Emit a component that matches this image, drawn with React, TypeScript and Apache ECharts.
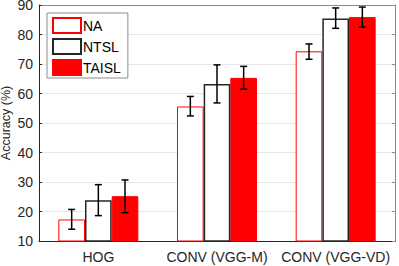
import React, { useEffect, useRef } from "react";
import * as echarts from "echarts";

const categories = ["HOG", "CONV (VGG-M)", "CONV (VGG-VD)"];
const seriesNames = ["NA", "NTSL", "TAISL"];
const naValues = [17.3, 55.6, 74.3];
const ntslValues = [23.8, 63.2, 85.4];
const taislValues = [25.2, 65.3, 85.9];
const naErr = [[14.0, 20.7], [52.4, 59.0], [71.6, 76.8]];
const ntslErr = [[18.6, 29.1], [56.8, 69.7], [82.1, 89.0]];
const taislErr = [[19.6, 30.7], [61.5, 69.2], [82.5, 89.3]];
const yTicks = [10, 20, 30, 40, 50, 60, 70, 80, 90];

const CAT_GAP = 0.326;

export default function App() {
  const ref = useRef<HTMLDivElement>(null);
  useEffect(() => {
    const chart = echarts.init(ref.current!, null, { renderer: "svg" });
    const errs = [naErr, ntslErr, taislErr];
    const errData: number[][] = [];
    errs.forEach((arr, s) => arr.forEach((e, i) => errData.push([i, e[0], e[1], s])));
    const font = "Liberation Sans, Arial, Helvetica, sans-serif";
    const txt = "#262626";
    chart.setOption({
      animation: false,
      grid: { left: 39, right: 4, top: 5, bottom: 25, containLabel: false, outerBoundsMode: "none" },
      legend: {
        left: 47,
        top: 13,
        orient: "vertical",
        icon: "rect",
        itemWidth: 28,
        itemHeight: 15,
        itemGap: 4,
        padding: [4, 7, 2, 5],
        borderColor: "#8c8c8c",
        borderWidth: 1,
        borderRadius: 0,
        backgroundColor: "#fff",
        textStyle: { fontSize: 14, lineHeight: 15, color: "#000", fontFamily: font, padding: [0, 0, 0, -3] },
        data: seriesNames,
      },
      xAxis: [
        {
          type: "category",
          data: categories,
          axisLine: { lineStyle: { color: txt, width: 1 } },
          axisTick: { inside: true, alignWithLabel: true, length: 3, lineStyle: { color: txt } },
          axisLabel: { fontSize: 14, color: txt, fontFamily: font, margin: 9, interval: 0 },
          splitLine: { show: false },
        },
        {
          type: "category",
          data: categories,
          position: "top",
          axisLine: { lineStyle: { color: "#8a8a8a", width: 1 } },
          axisTick: { inside: true, alignWithLabel: true, length: 3, lineStyle: { color: "#8a8a8a" } },
          axisLabel: { show: false },
        },
      ],
      yAxis: [
        {
          type: "value",
          min: 10,
          max: 90,
          interval: 10,
          name: "Accuracy (%)",
          nameLocation: "middle",
          nameGap: 27,
          nameMoveOverlap: false,
          nameTextStyle: { fontSize: 12.5, color: txt, fontFamily: font, lineHeight: 12 },
          axisLine: { show: true, lineStyle: { color: txt } },
          axisTick: { show: true, inside: true, length: 3, lineStyle: { color: txt } },
          axisLabel: { fontSize: 14, color: txt, fontFamily: font, margin: 6, lineHeight: 10 },
          splitLine: { show: true, lineStyle: { color: "#e6e6e6", width: 1 } },
        },
        {
          type: "value",
          min: 10,
          max: 90,
          interval: 10,
          position: "right",
          axisLine: { show: true, lineStyle: { color: "#8a8a8a" } },
          axisTick: { show: true, inside: true, length: 3, lineStyle: { color: "#8a8a8a" } },
          axisLabel: { show: false },
          splitLine: { show: false },
        },
      ],
      series: [
        {
          name: "NA",
          type: "bar",
          data: naValues,
          barGap: "0%",
          barCategoryGap: CAT_GAP * 100 + "%",
          itemStyle: { color: "#ffffff", borderColor: "#ff0000", borderWidth: 1 },
          z: 2,
        },
        {
          name: "NTSL",
          type: "bar",
          data: ntslValues,
          barGap: "0%",
          barCategoryGap: CAT_GAP * 100 + "%",
          itemStyle: { color: "#ffffff", borderColor: "#262626", borderWidth: 1.5 },
          z: 3,
        },
        {
          name: "TAISL",
          type: "bar",
          data: taislValues,
          barGap: "0%",
          barCategoryGap: CAT_GAP * 100 + "%",
          itemStyle: { color: "#ff0000", borderColor: "#ff0000", borderWidth: 1 },
          z: 2,
        },
        {
          type: "custom",
          name: "err",
          data: errData,
          z: 10,
          renderItem: (params: any, api: any) => {
            const cat = api.value(0);
            const lo = api.value(1);
            const hi = api.value(2);
            const s = api.value(3);
            const band = api.size([1, 0])[0];
            const bw = (band * (1 - CAT_GAP)) / 3;
            const pLo = api.coord([cat, lo]);
            const pHi = api.coord([cat, hi]);
            const x = pLo[0] + (s - 1) * bw;
            const cap = 3.5;
            const style = { stroke: "#000", lineWidth: 1.5 };
            return {
              type: "group",
              children: [
                { type: "line", shape: { x1: x, y1: pLo[1], x2: x, y2: pHi[1] }, style },
                { type: "line", shape: { x1: x - cap, y1: pHi[1], x2: x + cap, y2: pHi[1] }, style },
                { type: "line", shape: { x1: x - cap, y1: pLo[1], x2: x + cap, y2: pLo[1] }, style },
              ],
            };
          },
        },
      ],
    });
    return () => chart.dispose();
  }, []);
  return (
    <div
      ref={ref}
      style={{ position: "fixed", left: 0, top: 0, width: 399, height: 266, background: "#fff" }}
    />
  );
}
